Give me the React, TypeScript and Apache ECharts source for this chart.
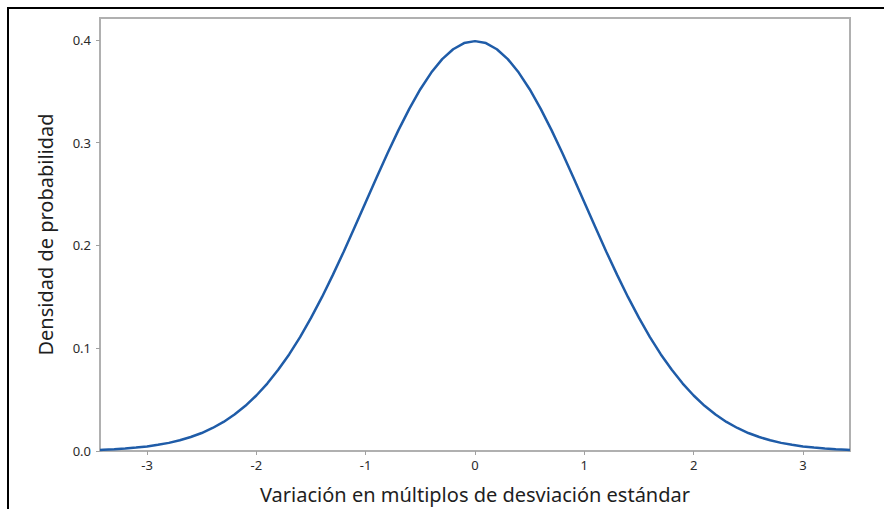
import React, { useEffect, useRef } from "react";
import * as echarts from "echarts";

const xValues = [
  -3.43, -3.4, -3.3, -3.2, -3.1, -3.0, -2.9, -2.8, -2.7, -2.6, -2.5, -2.4, -2.3, -2.2, -2.1,
  -2.0, -1.9, -1.8, -1.7, -1.6, -1.5, -1.4, -1.3, -1.2, -1.1, -1.0, -0.9, -0.8, -0.7, -0.6,
  -0.5, -0.4, -0.3, -0.2, -0.1, 0.0, 0.1, 0.2, 0.3, 0.4, 0.5, 0.6, 0.7, 0.8, 0.9, 1.0, 1.1,
  1.2, 1.3, 1.4, 1.5, 1.6, 1.7, 1.8, 1.9, 2.0, 2.1, 2.2, 2.3, 2.4, 2.5, 2.6, 2.7, 2.8, 2.9,
  3.0, 3.1, 3.2, 3.3, 3.4, 3.43,
];

const densityValues = [
  0.001, 0.0012, 0.0017, 0.0024, 0.0033, 0.0044, 0.006, 0.0079, 0.0104, 0.0136, 0.0175,
  0.0224, 0.0283, 0.0355, 0.044, 0.054, 0.0656, 0.079, 0.094, 0.1109, 0.1295, 0.1497,
  0.1714, 0.1942, 0.2179, 0.242, 0.2661, 0.2897, 0.3123, 0.3332, 0.3521, 0.3683, 0.3814,
  0.391, 0.397, 0.3989, 0.397, 0.391, 0.3814, 0.3683, 0.3521, 0.3332, 0.3123, 0.2897,
  0.2661, 0.242, 0.2179, 0.1942, 0.1714, 0.1497, 0.1295, 0.1109, 0.094, 0.079, 0.0656,
  0.054, 0.044, 0.0355, 0.0283, 0.0224, 0.0175, 0.0136, 0.0104, 0.0079, 0.006, 0.0044,
  0.0033, 0.0024, 0.0017, 0.0012, 0.001,
];

const xTicks = [-3, -2, -1, 0, 1, 2, 3];
const yTicks = [0, 0.1, 0.2, 0.3, 0.4];

const xTitle = "Variación en múltiplos de desviación estándar";
const yTitle = "Densidad de probabilidad";

export default function App() {
  const ref = useRef<HTMLDivElement>(null);
  useEffect(() => {
    if (!ref.current) return;
    const chart = echarts.init(ref.current, null, { renderer: "svg" });
    const data = xValues.map((x, i) => [x, densityValues[i]]);
    const labelFont = { fontFamily: "Noto Sans", fontSize: 13, color: "#2b2b2b" };
    const titleFont = { fontFamily: "Noto Sans", fontSize: 20, color: "#1e1e1e" };
    chart.setOption({
      animation: false,
      backgroundColor: "#fff",
      grid: {
        left: 100,
        right: 34,
        top: 18,
        bottom: 58,
        show: true,
        borderColor: "#b0b0b0",
        borderWidth: 2,
      },
      xAxis: {
        type: "value",
        min: -3.43,
        max: 3.43,
        name: xTitle,
        nameLocation: "middle",
        nameGap: 33,
        nameTextStyle: titleFont,
        axisLine: { show: true, onZero: false, lineStyle: { color: "#b0b0b0", width: 2 } },
        axisTick: {
          show: true,
          customValues: xTicks,
          length: 4,
          lineStyle: { color: "#a0a0a0" },
        },
        axisLabel: {
          customValues: xTicks,
          margin: 7,
          ...labelFont,
          formatter: (v: number) => String(v),
        },
        splitLine: { show: false },
      },
      yAxis: {
        type: "value",
        min: 0,
        max: 0.4214,
        name: yTitle,
        nameLocation: "middle",
        nameGap: 45,
        nameTextStyle: titleFont,
        axisLine: { show: true, onZero: false, lineStyle: { color: "#b0b0b0", width: 2 } },
        axisTick: {
          show: true,
          customValues: yTicks,
          length: 4,
          lineStyle: { color: "#a0a0a0" },
        },
        axisLabel: {
          customValues: yTicks,
          margin: 9,
          ...labelFont,
          formatter: (v: number) => v.toFixed(1),
        },
        splitLine: { show: false },
      },
      series: [
        {
          type: "line",
          data,
          showSymbol: false,
          symbol: "none",
          lineStyle: { color: "#1f5ca8", width: 2.5 },
          clip: true,
        },
      ],
      graphic: [
        {
          type: "line",
          shape: { x1: 8, y1: 8, x2: 8, y2: 509 },
          style: { stroke: "#000", lineWidth: 2 },
        },
        {
          type: "line",
          shape: { x1: 7, y1: 8, x2: 884, y2: 8 },
          style: { stroke: "#000", lineWidth: 2 },
        },
      ],
    });
    return () => chart.dispose();
  }, []);
  return (
    <div
      ref={ref}
      style={{ position: "absolute", left: 0, top: 0, width: 884, height: 509 }}
    />
  );
}
